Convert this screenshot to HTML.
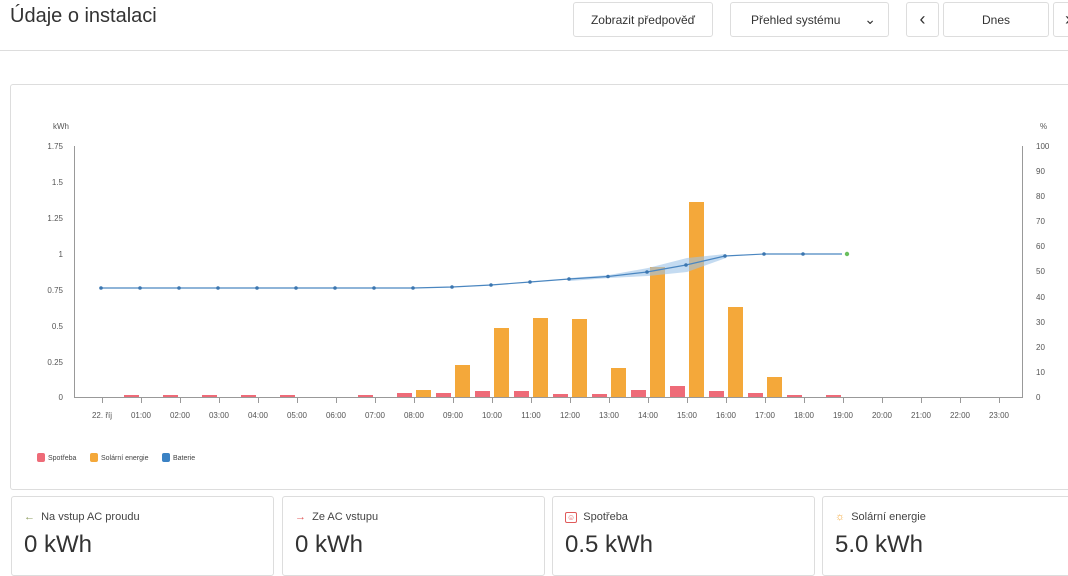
<!DOCTYPE html>
<html><head><meta charset="utf-8"><style>
*{box-sizing:border-box}
body{margin:0;width:1068px;height:570px;overflow:hidden;background:#fff;font-family:"Liberation Sans",sans-serif;color:#333;position:relative}
.t{position:absolute;left:10px;top:5px;font-size:20px;color:#333;font-weight:300}
.btn{position:absolute;top:2px;height:35px;border:1px solid #ddd;border-radius:3px;font-size:12px;color:#333;display:flex;align-items:center;justify-content:center}
.hl{position:absolute;left:0;top:50px;width:1068px;height:1px;background:#ddd}
.card{position:absolute;border:1px solid #ddd;border-radius:3px;background:#fff}
.lab{position:absolute;left:12px;top:14px;font-size:11px;color:#444}
.val{position:absolute;left:12px;top:34px;font-size:24px;color:#333}
</style></head><body>
<div class="t">Údaje o instalaci</div>
<div class="btn" style="left:573px;width:140px">Zobrazit předpověď</div>
<div class="btn" style="left:730px;width:159px;justify-content:flex-start;padding-left:20px">Přehled systému<span style="position:absolute;right:12px;font-size:14px">&#8964;</span></div>
<div class="btn" style="left:906px;width:33px;font-size:18px">&lsaquo;</div>
<div class="btn" style="left:943px;width:106px">Dnes</div>
<div class="btn" style="left:1053px;width:30px;font-size:18px">&rsaquo;</div>
<div class="hl"></div>
<div class="card" style="left:10px;top:84px;width:1070px;height:406px"></div>
<svg style="position:absolute;left:0;top:0" width="1068" height="570" font-family="Liberation Sans, sans-serif">
<g font-size="8" fill="#555">
<text x="53" y="129">kWh</text><text x="1040" y="129">%</text>
<g text-anchor="end">
<text x="63" y="149">1.75</text><text x="63" y="185">1.5</text><text x="63" y="221">1.25</text><text x="63" y="257">1</text><text x="63" y="293">0.75</text><text x="63" y="329">0.5</text><text x="63" y="365">0.25</text><text x="63" y="400">0</text></g>
<text x="1036" y="149">100</text><text x="1036" y="174">90</text><text x="1036" y="199">80</text><text x="1036" y="224">70</text><text x="1036" y="249">60</text><text x="1036" y="274">50</text><text x="1036" y="300">40</text><text x="1036" y="325">30</text><text x="1036" y="350">20</text><text x="1036" y="375">10</text><text x="1036" y="400">0</text>
</g>
<line x1="74.5" y1="146" x2="74.5" y2="397" stroke="#999"/>
<line x1="1022.5" y1="146" x2="1022.5" y2="397" stroke="#999"/>
<line x1="74" y1="397.5" x2="1023" y2="397.5" stroke="#999"/>
<g id="ticks" stroke="#999"></g>
<g id="lbl" font-size="8" fill="#555" text-anchor="middle"></g>
<g id="bars"></g>
<path d="M570 278 L609 275 L648 268 L687 258 L726 254 L726 258 L687 272 L648 276 L609 278 L570 281Z" fill="#9cc3e8" opacity="0.6"/>
<polyline id="ln" fill="none" stroke="#4a86c0" stroke-width="1.2"></polyline>
<g id="dots" fill="#3b76b0"></g>
<circle cx="847" cy="254" r="2.2" fill="#6abf5e"/>
<g font-size="7" fill="#444">
<rect x="37" y="453" width="8" height="9" rx="2" fill="#ee6b78"/><text x="48" y="460">Spotřeba</text>
<rect x="90" y="453" width="8" height="9" rx="2" fill="#f4a83a"/><text x="101" y="460">Solární energie</text>
<rect x="162" y="453" width="8" height="9" rx="2" fill="#3b82c4"/><text x="173" y="460">Baterie</text>
</g>
</svg>
<div class="card" style="left:11px;top:496px;width:263px;height:80px"><div class="lab"><span style="color:#8a9a5b">&larr;</span>&nbsp; Na vstup AC proudu</div><div class="val">0 kWh</div></div>
<div class="card" style="left:282px;top:496px;width:263px;height:80px"><div class="lab"><span style="color:#e05a5a">&rarr;</span>&nbsp; Ze AC vstupu</div><div class="val">0 kWh</div></div>
<div class="card" style="left:552px;top:496px;width:263px;height:80px"><div class="lab"><span style="color:#e05a5a;border:1px solid #e05a5a;border-radius:2px;font-size:8px;padding:0 1px">&#9786;</span>&nbsp; Spotřeba</div><div class="val">0.5 kWh</div></div>
<div class="card" style="left:822px;top:496px;width:263px;height:80px"><div class="lab"><span style="color:#f4a83a">&#9788;</span>&nbsp; Solární energie</div><div class="val">5.0 kWh</div></div>
<script>
var ns="http://www.w3.org/2000/svg";
function el(p,t,a){var e=document.createElementNS(ns,t);for(var k in a)e.setAttribute(k,a[k]);document.getElementById(p).appendChild(e);return e;}
var X=function(h){return 102+39*h};
for(var h=0;h<24;h++){el("ticks","line",{x1:X(h)+.5,x2:X(h)+.5,y1:397,y2:403});
var t=el("lbl","text",{x:X(h),y:418});t.textContent=h==0?"22. říj":(h<10?"0":"")+h+":00";}
var pink={1:2,2:2,3:2,4:2,5:2,7:2,8:4,9:4,10:6,11:6,12:3,13:3,14:7,15:11,16:6,17:4,18:2,19:2};
for(var k in pink){el("bars","rect",{x:X(+k)-17,y:397-pink[k],width:15,height:pink[k],fill:"#ee6b78"});}
var org={8:7,9:32,10:69,11:79,12:78,13:29,14:130,15:195,16:90,17:20};
for(var k in org){el("bars","rect",{x:X(+k)+2,y:397-org[k],width:15,height:org[k],fill:"#f4a83a"});}
var ys=[288,288,288,288,288,288,288,288,288,287,285,282,279,276.5,272,265,256,254,254,254];
var pts=[];for(var i=0;i<ys.length;i++){pts.push(X(i)-1+","+ys[i]);if(i<19)el("dots","circle",{cx:X(i)-1,cy:ys[i],r:1.8});}
document.getElementById("ln").setAttribute("points",pts.join(" "));
</script>
</body></html>
